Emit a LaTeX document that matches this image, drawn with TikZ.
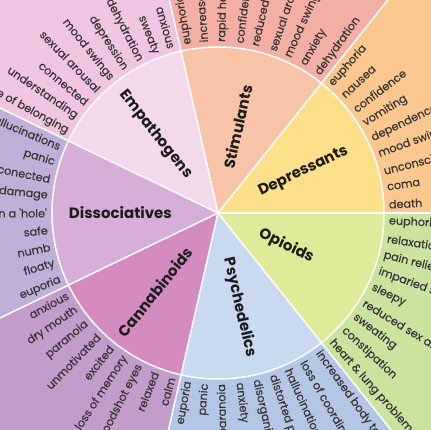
\documentclass[tikz,border=0pt]{standalone}
\usepackage{fontspec}
\setmainfont{Poppins}
\newfontfamily\effectfont[FakeBold=0.4]{Poppins}
\definecolor{depI}{HTML}{FFE08A}\definecolor{depO}{HTML}{FAC88E}
\definecolor{stiI}{HTML}{F7C4A8}\definecolor{stiO}{HTML}{F3AFA6}
\definecolor{empI}{HTML}{F3D9EC}\definecolor{empO}{HTML}{EFC5E1}
\definecolor{disI}{HTML}{D6AED8}\definecolor{disO}{HTML}{BEB0D8}
\definecolor{canI}{HTML}{D48CBF}\definecolor{canO}{HTML}{C29CCB}
\definecolor{psyI}{HTML}{C8D9F0}\definecolor{psyO}{HTML}{B3C6E6}
\definecolor{opiI}{HTML}{DEEA98}\definecolor{opiO}{HTML}{CAE4A0}
\definecolor{lbltext}{HTML}{3A3535}
\definecolor{cattext}{HTML}{1C1C1C}
\tikzset{
  effect/.style={font=\effectfont\fontsize{11.2}{12}\selectfont, text=lbltext, inner sep=0pt},
  category/.style={font=\fontsize{15}{16}\selectfont\bfseries, text=cattext, inner sep=0pt},
  divider/.style={white, line width=1.5pt}
}
\begin{document}
\begin{tikzpicture}[x=1pt,y=1pt]
\useasboundingbox (-218,-217) rectangle (213,213);
\clip (-218,-217) rectangle (213,213);
\def\Ro{340}
\def\Ri{166}
% sectors
\foreach \k/\ci/\co in {0/depI/depO,1/stiI/stiO,2/empI/empO,3/disI/disO,4/canI/canO,5/psyI/psyO,6/opiI/opiO}{
  \pgfmathsetmacro\a{\k*(360/7)}
  \pgfmathsetmacro\b{(\k+1)*(360/7)}
  \fill[\co] (0,0) -- (\a:\Ro) arc[start angle=\a, end angle=\b, radius=\Ro] -- cycle;
  \fill[\ci] (0,0) -- (\a:\Ri) arc[start angle=\a, end angle=\b, radius=\Ri] -- cycle;
}
\coordinate (c) at (0,0);
\foreach \k in {0,...,6}{
  \coordinate (d\k) at ({\k*(360/7)}:\Ro);
  \draw[divider] (c) -- (d\k);
}
\draw[divider] (c) circle[radius=\Ri];
% effect labels
\foreach \t [count=\n from 0] in {death,coma,unconsciousness,mood swings,dependence,vomiting,confidence,nausea,euphoria,
  dehydration,anxiety,mood swings,sexual arousal,reduced appetite,confidence,rapid heart rate,increased energy,euphoria,
  anxious,sweaty,dehydration,depression,mood swings,sexual arousal,connected,understanding,sense of belonging,
  hallucinations,panic,disconected,brain damage,in a 'hole',safe,numb,floaty,euporia,
  anxious,dry mouth,paranoia,unmotivated,excited,loss of memory,bloodshot eyes,relaxed,calm,
  euporia,panic,paranoia,anxiety,disorganised thinking,distorted perception,hallucinations,loss of coordination,increased body temperature,
  heart \& lung problems,constipation,sweating,reduced sex drive,sleepy,imparied speech,pain relief,relaxation,euphoria}{
  \pgfmathsetmacro\ang{(\n+0.5)*(360/63)}
  \ifnum\n<18
    \node[effect, anchor=west, rotate=\ang] (e\n) at (\ang:171) {\t};
  \else\ifnum\n<48
    \node[effect, anchor=east, rotate=\ang+180] (e\n) at (\ang:171) {\t};
  \else
    \node[effect, anchor=west, rotate=\ang] (e\n) at (\ang:171) {\t};
  \fi\fi
}
% category labels
\node[category, anchor=west, rotate=25.714] (dep) at (25.714:46) {Depressants};
\node[category, anchor=west, rotate=77.143] (sti) at (77.143:46) {Stimulants};
\node[category, anchor=east, rotate=-51.429] (emp) at (128.571:46) {Empathogens};
\node[category, anchor=east, rotate=0] (dis) at (180:46) {Dissociatives};
\node[category, anchor=east, rotate=51.429] (can) at (231.429:46) {Cannabinoids};
\node[category, anchor=west, rotate=282.857] (psy) at (282.857:46) {Psychedelics};
\node[category, anchor=west, rotate=334.286] (opi) at (334.286:46) {Opioids};
\end{tikzpicture}
\end{document}
